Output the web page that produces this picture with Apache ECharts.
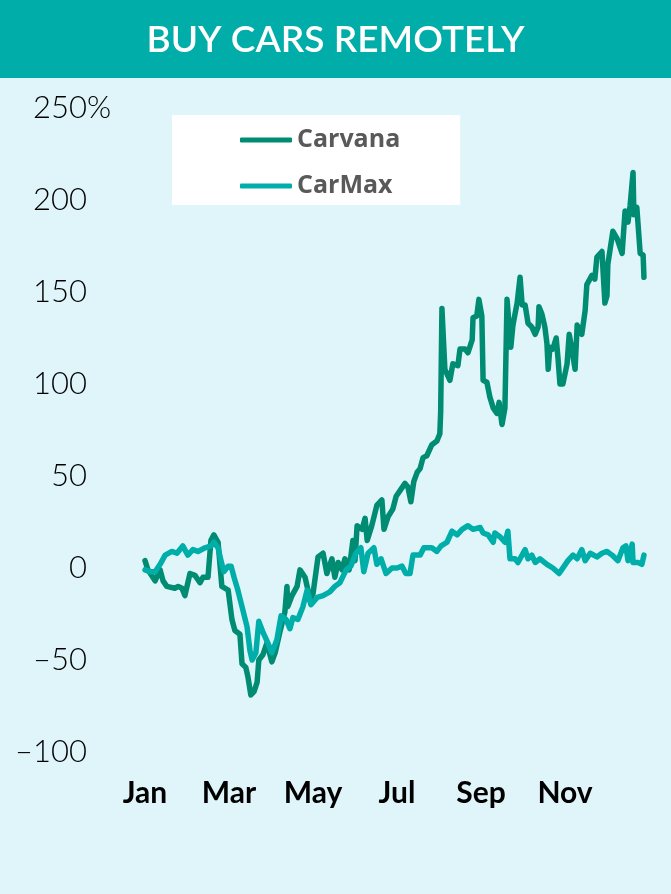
<!DOCTYPE html>
<html>
<head>
<meta charset="utf-8">
<script src="https://cdn.jsdelivr.net/npm/echarts@6/dist/echarts.min.js"></script>
<style>
    html, body { margin: 0; padding: 0; background: #ffffff; }
    #chart { width: 671px; height: 894px; }
</style>
</head>
<body>
<div id="chart"></div>
<script>
// x positions are in months from Jan 1 (0 = Jan 1, 12 = Dec 31), values are % change
var monthLabels = ['Jan', 'Mar', 'May', 'Jul', 'Sep', 'Nov'];
var yTicks = [-100, -50, 0, 50, 100, 150, 200, 250];

var carvanaMonth = [0.00, 0.07, 0.24, 0.36, 0.43, 0.52, 0.71, 0.79, 0.88, 0.95, 1.07, 1.19, 1.31, 1.38, 1.50,
    1.57, 1.64, 1.74, 1.83, 1.98, 2.07, 2.14, 2.26, 2.31, 2.40, 2.45, 2.52, 2.60, 2.67, 2.71, 2.81, 2.90,
    2.95, 3.02, 3.10, 3.21, 3.33, 3.38, 3.40, 3.50, 3.62, 3.69, 3.81, 3.93, 4.00, 4.12, 4.24, 4.33, 4.45,
    4.52, 4.60, 4.69, 4.76, 4.86, 4.95, 5.00, 5.05, 5.17, 5.24, 5.29, 5.40, 5.52, 5.64, 5.69, 5.79, 5.90,
    5.98, 6.10, 6.19, 6.26, 6.33, 6.40, 6.48, 6.55, 6.62, 6.71, 6.83, 6.95, 7.02, 7.04, 7.07, 7.14, 7.26,
    7.33, 7.45, 7.50, 7.62, 7.69, 7.79, 7.81, 7.90, 7.95, 8.02, 8.05, 8.14, 8.21, 8.29, 8.38, 8.43, 8.50,
    8.57, 8.62, 8.71, 8.76, 8.86, 8.93, 8.98, 9.05, 9.12, 9.21, 9.29, 9.36, 9.38, 9.45, 9.52, 9.57, 9.60,
    9.64, 9.71, 9.79, 9.83, 9.88, 9.95, 10.05, 10.10, 10.17, 10.24, 10.29, 10.40, 10.48, 10.52, 10.64,
    10.71, 10.76, 10.88, 10.95, 11.00, 11.02, 11.14, 11.24, 11.36, 11.43, 11.50, 11.55, 11.62, 11.64,
    11.71, 11.79, 11.86, 11.88];
var carvanaPct = [4, -1, -7, -1, -7, -10, -11, -10, -11, -15, -3, -4, -8, -5, -5,
    15, 18, 14, -10, -12, -28, -34, -36, -52, -54, -59, -69, -67, -62, -50, -47, -41,
    -45, -51, -46, -35, -24, -10, -21, -15, -10, -1, -5, -17, -14, 6, 8, -3, 5,
    -5, 3, -1, 5, -1, 15, 4, 23, 21, 27, 15, 23, 34, 37, 21, 28, 32,
    39, 43, 46, 44, 36, 47, 52, 54, 60, 61, 67, 69, 73, 85, 141, 108, 102,
    111, 110, 119, 119, 117, 124, 136, 137, 146, 137, 102, 101, 93, 87, 84, 90, 78,
    87, 146, 120, 132, 144, 158, 143, 143, 133, 131, 127, 131, 142, 138, 131, 122, 108,
    120, 119, 125, 115, 100, 100, 111, 127, 118, 108, 132, 127, 140, 154, 159,
    157, 169, 172, 144, 148, 165, 183, 179, 171, 194, 188, 197, 215, 192,
    196, 171, 170, 158];

var carmaxMonth = [0.00, 0.12, 0.24, 0.36, 0.48, 0.64, 0.76, 0.90, 1.02, 1.14, 1.26, 1.43, 1.57, 1.64, 1.74,
    1.83, 1.88, 1.98, 2.05, 2.12, 2.21, 2.31, 2.43, 2.50, 2.55, 2.64, 2.71, 2.81, 2.93, 3.02, 3.14, 3.24,
    3.36, 3.45, 3.52, 3.64, 3.76, 3.86, 3.95, 4.10, 4.24, 4.40, 4.52, 4.64, 4.79, 4.90, 5.02, 5.14, 5.21,
    5.31, 5.45, 5.52, 5.62, 5.74, 5.88, 6.00, 6.12, 6.21, 6.31, 6.38, 6.55, 6.64, 6.83, 6.95, 7.05, 7.19,
    7.31, 7.43, 7.55, 7.69, 7.81, 7.98, 8.05, 8.17, 8.29, 8.33, 8.45, 8.57, 8.64, 8.69, 8.81, 8.88, 9.05,
    9.12, 9.21, 9.29, 9.40, 9.57, 9.71, 9.86, 9.98, 10.07, 10.19, 10.29, 10.40, 10.48, 10.60, 10.76,
    10.88, 11.00, 11.12, 11.26, 11.38, 11.45, 11.50, 11.60, 11.62, 11.74, 11.83, 11.88];
var carmaxPct = [-1, -2, -2, 2, 7, 9, 8, 12, 7, 10, 9, 11, 12, 14, 11,
    2, -2, 1, 1, -5, -12, -21, -32, -45, -50, -46, -29, -35, -41, -46, -39, -26,
    -28, -33, -27, -28, -21, -12, -20, -16, -15, -13, -10, -8, -1, 1, 8, 11, -2,
    8, 11, 2, 5, -3, 0, 0, 1, -3, -3, 7, 7, 11, 11, 9, 12, 14,
    20, 18, 21, 23, 21, 22, 19, 18, 14, 19, 17, 14, 20, 5, 5, 3, 10,
    5, 7, 3, 5, 2, 0, -3, 1, 4, 7, 5, 10, 4, 8, 6,
    8, 9, 7, 4, 11, 12, 4, 13, 3, 3, 2, 7];

function init() {
    var myChart = echarts.init(document.getElementById('chart'));
    let dark_color = '#008c72';
    let light_color = '#00aea9';
    let topTick = yTicks[yTicks.length - 1];

    function pairs(xs, ys) {
        var out = [];
        for (var i = 0; i < xs.length; i++) {
            out.push([xs[i], ys[i]]);
        }
        return out;
    }

    var yLabelStyle = {
        margin: 58,
        color: '#000000',
        fontFamily: 'Lato',
        fontSize: 31,
        fontWeight: 300
    };

    myChart.setOption({
        backgroundColor: '#dff5fa',
        animation: false,
        graphic: [
            {
                type: 'rect',
                left: 0,
                top: 0,
                shape: { width: 671, height: 78 },
                style: { fill: '#00ada9' },
                z: -1
            }
        ],
        title: {
            text: 'BUY CARS REMOTELY',
            left: 'center',
            top: 17,
            textStyle: {
                color: '#ffffff',
                fontFamily: 'Lato',
                fontSize: 37,
                fontWeight: 600
            }
        },
        legend: {
            orient: 'vertical',
            left: 172,
            top: 115,
            backgroundColor: '#ffffff',
            padding: [12, 60, 6, 68],
            itemGap: 20,
            itemWidth: 52,
            itemHeight: 5,
            icon: 'roundRect',
            data: ['Carvana', 'CarMax'],
            textStyle: {
                color: '#595959',
                fontFamily: 'Open Sans',
                fontSize: 25,
                fontWeight: 'bold',
                lineHeight: 26
            }
        },
        grid: {
            left: 145,
            right: 22,
            top: 108,
            bottom: 142
        },
        xAxis: {
            type: 'value',
            min: 0,
            max: 12,
            interval: 2,
            axisLine: { show: false },
            axisTick: { show: false },
            splitLine: { show: false },
            axisLabel: {
                margin: 26,
                color: '#000000',
                fontFamily: 'Lato',
                fontSize: 30,
                fontWeight: 'bold',
                formatter: function (v) {
                    return monthLabels[v / 2] || '';
                }
            }
        },
        yAxis: [
            {
                type: 'value',
                min: yTicks[0],
                max: topTick,
                interval: 50,
                axisLine: { show: false },
                axisTick: { show: false },
                splitLine: { show: false },
                axisLabel: Object.assign({}, yLabelStyle, {
                    formatter: function (v) {
                        return v < 0 ? '\u2013' + Math.abs(v) : String(v);
                    }
                })
            },
            {
                // only carries the "%" that hangs after the top tick label
                type: 'value',
                position: 'left',
                min: yTicks[0],
                max: topTick,
                interval: 50,
                axisLine: { show: false },
                axisTick: { show: false },
                splitLine: { show: false },
                axisLabel: Object.assign({}, yLabelStyle, {
                    align: 'left',
                    formatter: function (v) {
                        return v === topTick ? '%' : '';
                    }
                })
            }
        ],
        series: [
            {
                name: 'Carvana',
                type: 'line',
                data: pairs(carvanaMonth, carvanaPct),
                showSymbol: false,
                color: dark_color,
                lineStyle: { width: 5.5, color: dark_color, cap: 'round', join: 'round' }
            },
            {
                name: 'CarMax',
                type: 'line',
                data: pairs(carmaxMonth, carmaxPct),
                showSymbol: false,
                color: light_color,
                lineStyle: { width: 5.5, color: light_color, cap: 'round', join: 'round' }
            }
        ]
    });
}
document.addEventListener('DOMContentLoaded', init);
</script>
</body>
</html>
